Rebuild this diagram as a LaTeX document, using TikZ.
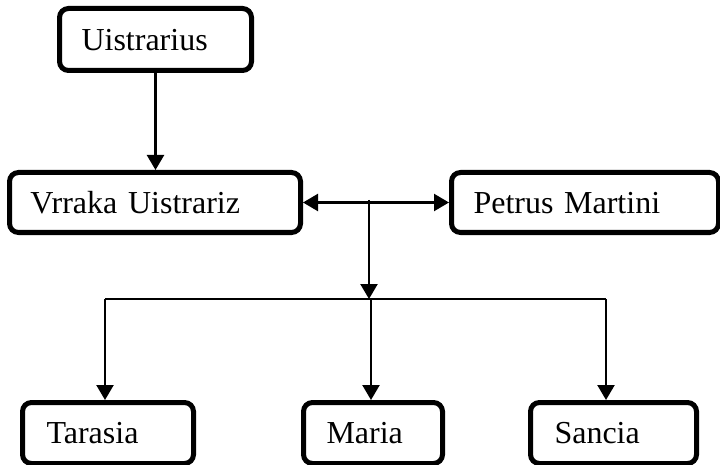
\documentclass[tikz,border=0pt]{standalone}
\usepackage{fontspec}
\setmainfont{Liberation Serif}
\usetikzlibrary{arrows.meta}
\begin{document}
\begin{tikzpicture}[x=1pt,y=-1pt,
  box/.style={draw, line width=5pt, rounded corners=9pt, anchor=north west,
    inner ysep=0pt, align=left, font=\fontsize{32}{36}\selectfont, text depth=0pt},
  arr/.style={line width=2.3pt, -{Triangle[length=15pt,width=17pt]}},
  dbl/.style={line width=2.3pt, {Triangle[length=15pt,width=17pt]}-{Triangle[length=15pt,width=17pt]}},
  thin/.style={line width=1.5pt}]
\useasboundingbox (0,0) rectangle (720,465);
% boxes: inner xsep = left pad, text width = W - 2*pad
\node[box, inner xsep=22pt, text width=148pt, minimum height=62pt] (U) at (57,6) {Uistrarius};
\node[box, inner xsep=21pt, text width=249pt, minimum height=60pt] (V) at (7,170) {Vrraka Uistrariz};
\node[box, inner xsep=22pt, text width=223pt, minimum height=60pt] (P) at (449,170) {Petrus Martini};
\node[box, inner xsep=24pt, text width=123pt, minimum height=61pt] (T) at (20,400) {Tarasia};
\node[box, inner xsep=23pt, text width=93pt, minimum height=61pt] (M) at (301,400) {Maria};
\node[box, inner xsep=24pt, text width=118pt, minimum height=61pt] (S) at (528,400) {Sancia};
% connectors
\draw[arr] (U.south) -- (U.south |- V.north);
\draw[dbl] (V.east) -- (P.west);
\coordinate (j) at (369,200);
\coordinate (h) at (369,299);
\coordinate (hl) at (105,299);
\coordinate (hm) at (371,299);
\coordinate (hr) at (606,299);
\draw[arr] (j) -- (h);
\draw[thin] (hl) -- (hr);
\draw[arr] (hl) -- (hl |- T.north);
\draw[arr] (hm) -- (hm |- M.north);
\draw[arr] (hr) -- (hr |- S.north);
\end{tikzpicture}
\end{document}
